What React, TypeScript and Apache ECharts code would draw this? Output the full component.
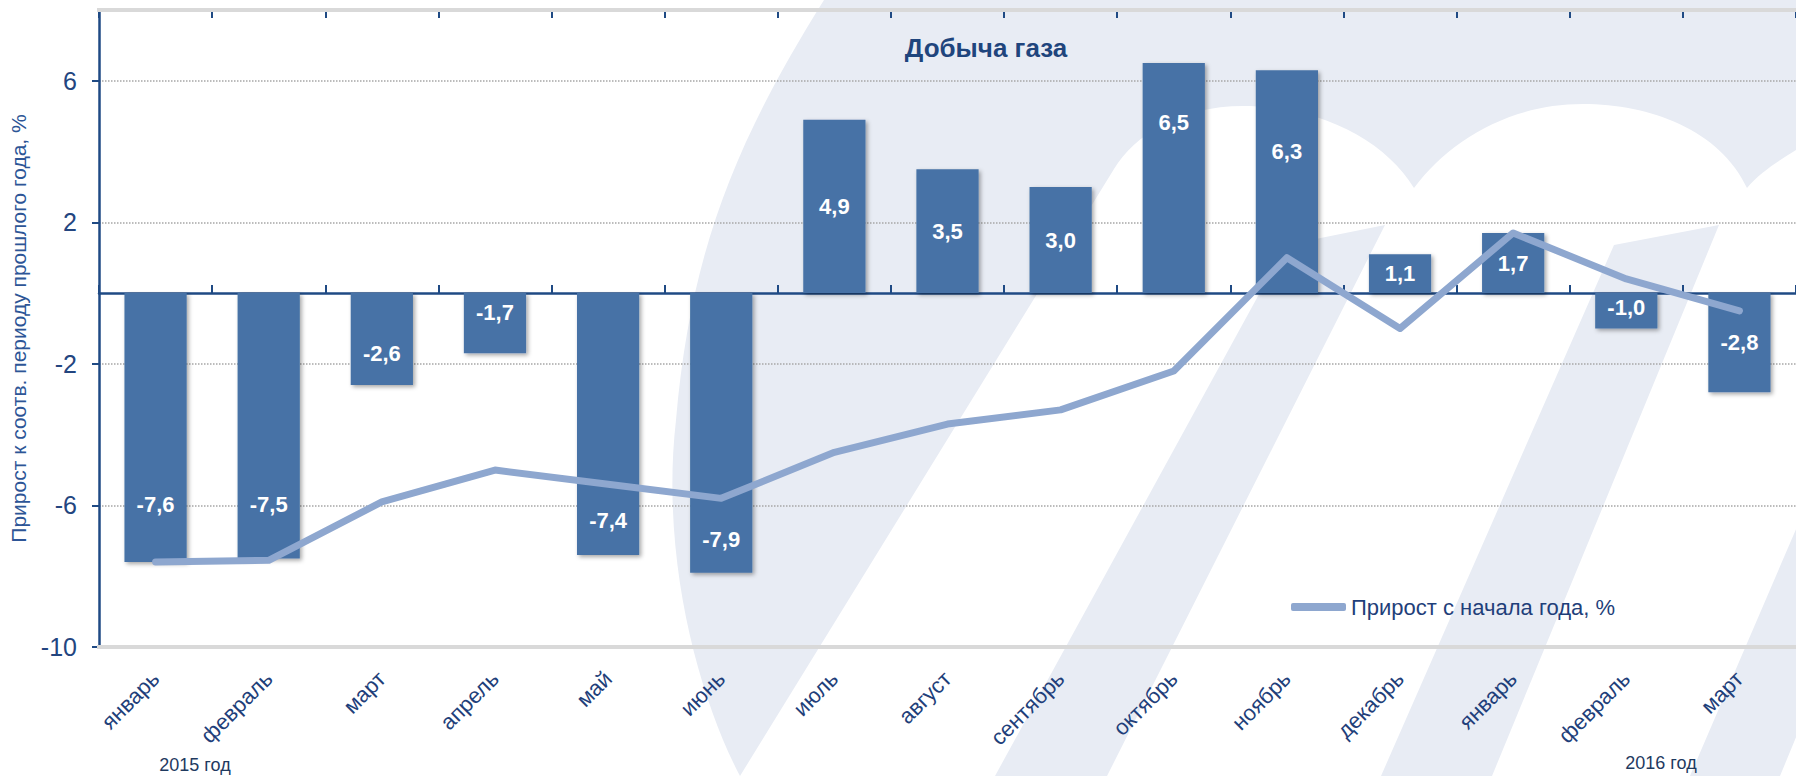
import React, { useEffect, useRef } from "react";
import * as echarts from "echarts";

// ---- data ----
const categories = [
  "январь", "февраль", "март", "апрель", "май", "июнь", "июль", "август",
  "сентябрь", "октябрь", "ноябрь", "декабрь", "январь", "февраль", "март",
];
// monthly growth vs. same period of previous year, %
const monthlyGrowth = [-7.6, -7.5, -2.6, -1.7, -7.4, -7.9, 4.9, 3.5, 3.0, 6.5, 6.3, 1.1, 1.7, -1.0, -2.8];
// growth since the start of the year, %
const ytdGrowth = [-7.6, -7.55, -5.9, -5.0, -5.4, -5.8, -4.5, -3.7, -3.3, -2.2, 1.0, -1.0, 1.7, 0.4, -0.5];
const yTickValues = [-10, -6, -2, 2, 6];
const yearLabels = ["2015 год", "2016 год"];
const chartTitle = "Добыча газа";
const yAxisTitle = "Прирост к соотв. периоду прошлого года, %";
const lineName = "Прирост с начала года, %";

// label vertical nudges (style only, px)
const labelNudge = [77, 79, 14, -11, 96, 107, 0, 0, 0, -56, -30, 0, 0, -3, 0];

const NAVY = "#1f4a84";
const TEXT = "#1f3f7a";
const BAR = "#4672a6";
const LINE = "#8ea7cf";
const WM = "#e8ecf4";
const FONT = "'Liberation Sans', Arial, sans-serif";

let registered = false;
function registerShapes() {
  if (registered) return;
  registered = true;
  echarts.graphic.registerShape(
    "wmTop",
    echarts.graphic.extendPath(
      "M 824 0 L 1796 0 L 1796 150 C 1780 160 1760 172 1747 188 C 1720 130 1650 104 1583 104 C 1510 104 1450 140 1414 188 C 1385 140 1320 106 1243 106 C 1180 106 1135 135 1114 169 L 740 776 C 700 700 660 560 676 420 C 690 260 730 150 824 0 Z",
      {}
    )
  );
  echarts.graphic.registerShape(
    "wmBands",
    echarts.graphic.extendPath(
      "M 1286 245 L 1385 225 L 1107 776 L 995 776 Z M 1614 245 L 1719 225 L 1492 776 L 1381 776 Z M 1918 245 L 2008 225 L 1780 776 L 1690 776 Z",
      {}
    )
  );
}

const fmt = (v: number) => v.toFixed(1).replace(".", ",");

export default function App() {
  const ref = useRef<HTMLDivElement>(null);
  useEffect(() => {
    if (!ref.current) return;
    registerShapes();
    const chart = echarts.init(ref.current, undefined, { renderer: "svg" });
    const option: any = {
      animation: false,
      backgroundColor: "#ffffff",
      grid: { left: 97, top: 10, width: 1702, height: 637, containLabel: false },
      graphic: [
        { type: "wmTop", x: 0, y: 0, z: -10, silent: true, style: { fill: WM } },
        { type: "wmBands", x: 0, y: 0, z: -10, silent: true, style: { fill: WM } },
        { type: "line", z: 10, shape: { x1: 97, y1: 10, x2: 1796, y2: 10 }, style: { stroke: "#d9d9d9", lineWidth: 4 } },
        { type: "line", z: 10, shape: { x1: 97, y1: 647, x2: 1796, y2: 647 }, style: { stroke: "#d9d9d9", lineWidth: 4 } },
        {
          type: "text", x: 986, y: 48, z: 20,
          style: { text: chartTitle, font: `bold 26px ${FONT}`, fill: "#1f457d", align: "center", verticalAlign: "middle", textAlign: "center", textVerticalAlign: "middle" },
        },
        {
          type: "text", x: 195, y: 765, z: 20,
          style: { text: yearLabels[0], font: `18px ${FONT}`, fill: "#1f3a5f", align: "center", verticalAlign: "middle", textAlign: "center", textVerticalAlign: "middle" },
        },
        {
          type: "text", x: 1661, y: 763, z: 20,
          style: { text: yearLabels[1], font: `18px ${FONT}`, fill: "#1f3a5f", align: "center", verticalAlign: "middle", textAlign: "center", textVerticalAlign: "middle" },
        },
      ],
      legend: {
        data: [lineName],
        left: 1286,
        top: 591,
        icon: "roundRect",
        itemWidth: 55,
        itemHeight: 8,
        itemGap: 5,
        textStyle: { fontSize: 22, color: TEXT, fontFamily: FONT },
      },
      xAxis: [
        {
          type: "category", data: categories, position: "bottom",
          axisLine: { show: true, onZero: true, lineStyle: { color: NAVY, width: 2.5 } },
          axisTick: { show: true, inside: true, length: 8, lineStyle: { color: NAVY, width: 2 } },
          axisLabel: { show: false }, splitLine: { show: false },
        },
        {
          type: "category", data: categories, position: "top",
          axisLine: { show: true, onZero: true, lineStyle: { color: NAVY, width: 2.5 } },
          axisTick: { show: true, inside: true, length: 8, lineStyle: { color: NAVY, width: 2 } },
          axisLabel: { show: false }, splitLine: { show: false },
        },
        {
          type: "category", data: categories, position: "bottom",
          axisLine: { show: false, onZero: false },
          axisTick: { show: false },
          axisLabel: { rotate: 45, margin: 28, fontSize: 22, color: TEXT, fontFamily: FONT, interval: 0 },
          splitLine: { show: false },
        },
      ],
      yAxis: {
        type: "value", min: -10, max: 8,
        axisLine: { show: true, onZero: false, lineStyle: { color: NAVY, width: 2.5 } },
        axisTick: { show: true, length: 7, customValues: yTickValues, lineStyle: { color: NAVY, width: 2 } },
        axisLabel: { customValues: yTickValues, fontSize: 25, color: "#23457f", margin: 22, fontFamily: FONT },
        splitLine: { show: true, lineStyle: { type: "dotted", color: "#a6a6a6", width: 1.5 } },
        name: yAxisTitle, nameLocation: "middle", nameGap: 70, nameRotate: 90,
        nameTextStyle: { fontSize: 21, color: "#2d5596", fontFamily: FONT },
      },
      series: [
        {
          type: "bar", name: "monthly", xAxisIndex: 0, barWidth: "55%", z: 2,
          itemStyle: { color: BAR, shadowBlur: 4, shadowColor: "rgba(0,0,0,0.35)", shadowOffsetX: 2, shadowOffsetY: 2 },
          label: { show: true, position: "inside", color: "#ffffff", fontWeight: "bold", fontSize: 22, fontFamily: FONT, formatter: (p: any) => fmt(p.value) },
          data: monthlyGrowth.map((v, i) => ({ value: v, label: { offset: [0, labelNudge[i]] } })),
        },
        {
          type: "line", name: lineName, xAxisIndex: 0, data: ytdGrowth, z: 3,
          symbol: "none", showSymbol: false,
          lineStyle: { color: LINE, width: 7, cap: "round", join: "round" },
          itemStyle: { color: LINE },
        },
      ],
    };
    chart.setOption(option);
    return () => chart.dispose();
  }, []);
  return (
    <div
      ref={ref}
      style={{ position: "fixed", left: 0, top: 0, width: 1796, height: 776 }}
    />
  );
}
